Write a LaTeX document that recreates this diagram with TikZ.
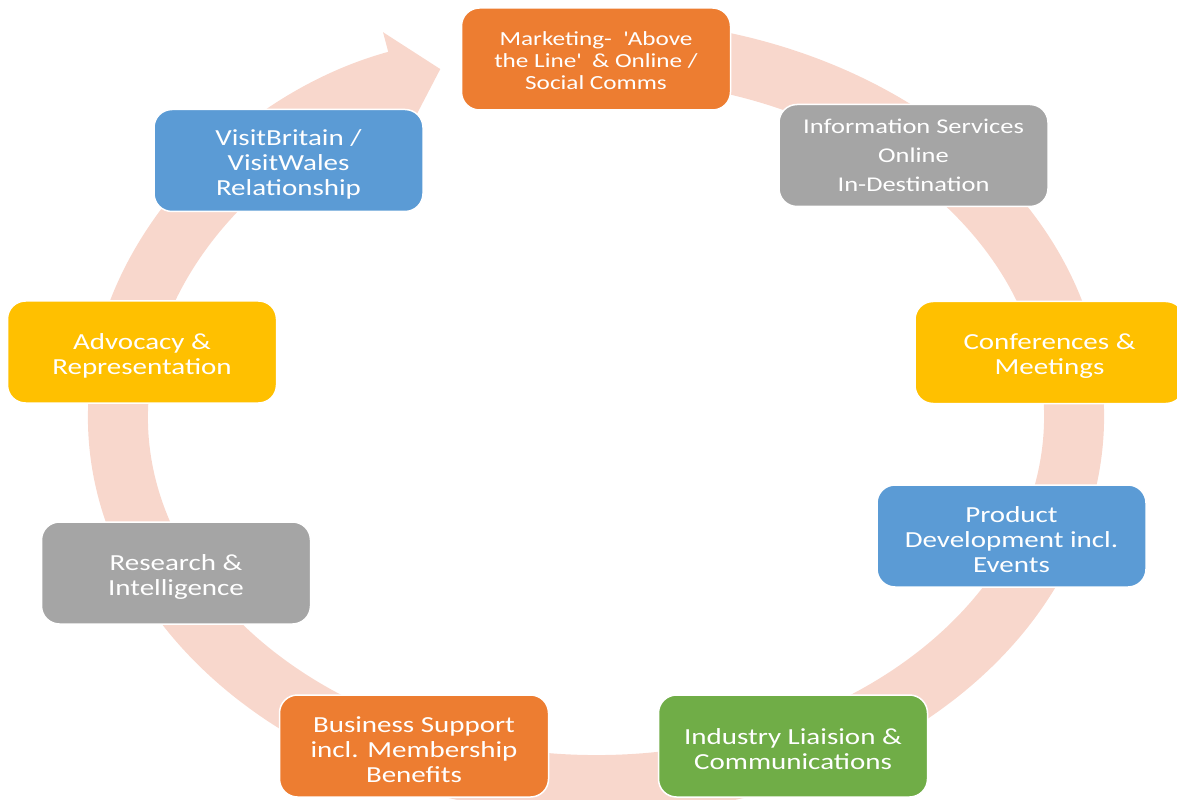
\documentclass[tikz,border=0pt]{standalone}
\usepackage{fontspec}
\setmainfont{Carlito}[FakeStretch=1.26]
\usetikzlibrary{arrows.meta}

\definecolor{ringpink}{HTML}{F8D7CC}
\definecolor{boxorange}{HTML}{ED7D31}
\definecolor{boxgray}{HTML}{A5A5A5}
\definecolor{boxyellow}{HTML}{FFC000}
\definecolor{boxblue}{HTML}{5B9BD5}
\definecolor{boxgreen}{HTML}{70AD47}

% a little extra room above the first line of a box
\newcommand\topgap[1][11.5pt]{\rule{0pt}{#1}}

\begin{document}
\begin{tikzpicture}[x=0.5pt, y=0.5pt,
  box/.style={draw=white, line width=0.75pt, rounded corners=9pt, text=white,
    align=center, minimum width=134.5pt, minimum height=51pt,
    font=\fontsize{11.5}{12.5}\selectfont}]
  \clip (0,0) rectangle (1177,799);

  % cycle ring
  \draw[ringpink, line width=30pt, -{Triangle[width=49pt, length=23pt]}]
    (596,382) ++(80:478 and 368) arc[start angle=80, end angle=-251, x radius=478, y radius=368];

  % top
  \node[box, fill=boxorange, font=\fontsize{10}{11}\selectfont] (mkt) at (596,740)
    {\topgap[8.5pt]Marketing-\ \ \textquotesingle Above\\the Line\textquotesingle\ \ \& Online /\\Social Comms};
  \node[box, fill=boxgray, font=\fontsize{10.5}{14.5}\selectfont] (info) at (913.5,643.5)
    {Information Services\\Online\\In-Destination};

  % right side
  \node[box, fill=boxyellow] (conf) at (1049.5,446.5) {\topgap Conferences \&\\Meetings};
  \node[box, fill=boxblue] (prod) at (1011.5,263) {\topgap Product\\Development incl.\\Events};

  % bottom
  \node[box, fill=boxgreen] (ind) at (793,53) {\topgap Industry Liaision \&\\Communications};
  \node[box, fill=boxorange] (bus) at (414,53) {\topgap Business Support\\incl. Membership\\Benefits};

  % left side
  \node[box, fill=boxgray] (res) at (176,226) {\topgap Research \&\\Intelligence};
  \node[box, fill=boxyellow] (adv) at (142,447) {\topgap Advocacy \&\\Representation};
  \node[box, fill=boxblue] (visit) at (288.5,638.5) {\topgap VisitBritain /\\VisitWales\\Relationship};
\end{tikzpicture}
\end{document}
